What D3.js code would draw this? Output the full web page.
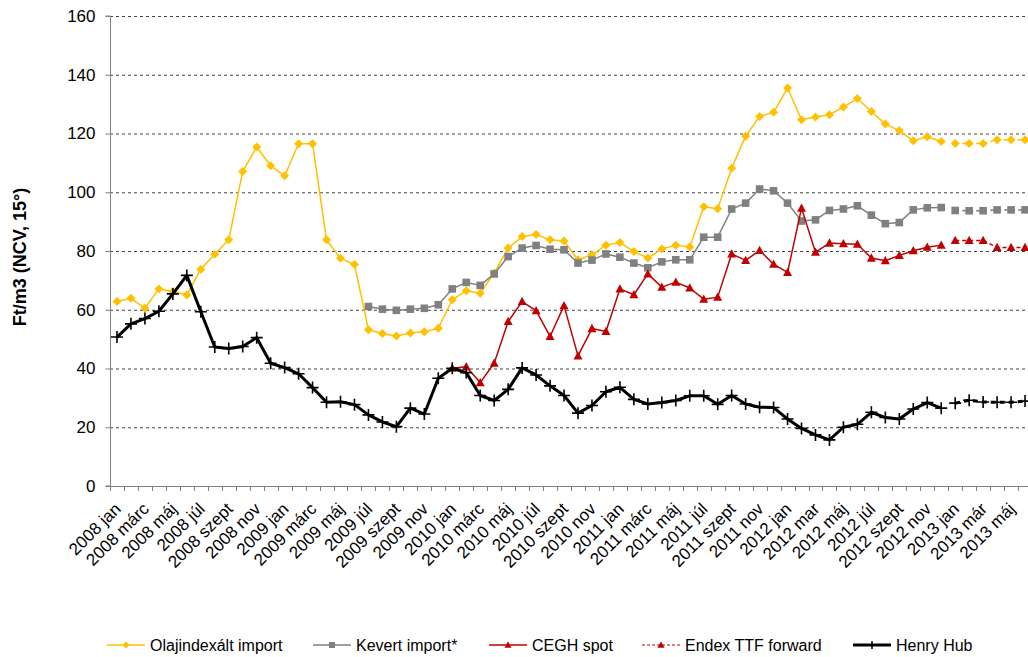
<!DOCTYPE html>
<html>
<head>
<meta charset="utf-8">
<script src="https://cdn.jsdelivr.net/npm/d3@7"></script>
<style>
  html, body { margin: 0; padding: 0; background: #fff; }
  svg { display: block; font-family: "Liberation Sans", Arial, sans-serif; }
</style>
</head>
<body>
<svg id="chart" width="1028" height="657"></svg>
<script>
// Month categories, 2008 jan – 2013 jún (every other one is labelled)
const months = [
  "2008 jan","2008 febr","2008 márc","2008 ápr","2008 máj","2008 jún","2008 júl","2008 aug","2008 szept","2008 okt","2008 nov","2008 dec",
  "2009 jan","2009 febr","2009 márc","2009 ápr","2009 máj","2009 jún","2009 júl","2009 aug","2009 szept","2009 okt","2009 nov","2009 dec",
  "2010 jan","2010 febr","2010 márc","2010 ápr","2010 máj","2010 jún","2010 júl","2010 aug","2010 szept","2010 okt","2010 nov","2010 dec",
  "2011 jan","2011 febr","2011 márc","2011 ápr","2011 máj","2011 jún","2011 júl","2011 aug","2011 szept","2011 okt","2011 nov","2011 dec",
  "2012 jan","2012 feb","2012 mar","2012 ápr","2012 máj","2012 jún","2012 júl","2012 aug","2012 szept","2012 okt","2012 nov","2012 dec",
  "2013 jan","2013 feb","2013 már","2013 ápr","2013 máj","2013 jún"
];

// Realised prices, Ft/m3 (2008 jan – 2012 dec); null = no data
const olajindexalt = [
  62.8,63.9,60.5,67.1,66.2,65.0,73.8,78.9,83.8,107.1,115.4,109.0,
  105.6,116.5,116.5,83.8,77.5,75.4,53.2,51.9,51.1,52.1,52.5,53.7,
  63.4,66.5,65.6,72.5,81.0,84.9,85.6,83.8,83.4,77.0,78.7,82.0,
  82.9,79.8,77.6,80.7,82.0,81.4,95.1,94.4,108.2,119.1,125.8,127.2,
  135.5,124.7,125.6,126.4,129.0,131.9,127.5,123.2,121.0,117.5,118.9,117.3
];
const kevert = [
  null,null,null,null,null,null,null,null,null,null,null,null,
  null,null,null,null,null,null,61.1,60.2,59.8,60.2,60.5,61.7,
  67.1,69.3,68.3,72.2,78.1,81.0,81.9,80.6,80.4,75.9,76.9,79.0,
  77.9,75.9,74.3,76.3,77.0,77.0,84.7,84.7,94.3,96.3,101.1,100.5,
  96.3,90.2,90.6,93.8,94.3,95.4,92.2,89.3,89.7,94.0,94.7,94.8
];
const cegh = [
  null,null,null,null,null,null,null,null,null,null,null,null,
  null,null,null,null,null,null,null,null,null,null,null,null,
  40.1,40.6,35.2,41.8,56.0,62.8,59.7,50.9,61.4,44.3,53.6,52.6,
  67.1,65.1,72.2,67.7,69.4,67.4,63.6,64.3,79.0,76.8,80.2,75.5,
  72.7,94.6,79.6,82.7,82.5,82.3,77.6,76.7,78.5,80.1,81.3,82.0
];
const henryHub = [
  50.7,55.2,57.0,59.5,65.4,71.7,59.3,47.3,46.8,47.5,50.5,41.8,
  40.3,38.2,33.5,28.5,28.7,27.7,24.2,21.8,20.2,26.5,24.5,36.7,
  40.1,38.6,30.8,29.1,32.9,40.2,37.8,34.1,30.8,24.8,27.4,32.1,
  33.6,29.5,27.9,28.4,29.1,30.7,30.7,27.8,30.8,27.9,26.8,26.7,
  22.8,19.6,17.4,15.7,20.0,21.0,25.1,23.3,22.8,26.2,28.4,26.5
];

// Forward prices, 2013 jan – 2013 jún
const fwdStart = 60;
const olajFwd   = [116.6,116.6,116.6,117.9,117.9,117.9];
const kevertFwd = [93.8,93.7,93.7,94.0,94.0,94.0];
const endexTTF  = [83.6,83.6,83.6,81.2,81.2,81.2];
const henryFwd  = [28.2,29.2,28.6,28.5,28.5,28.9];

const yTicks = [0,20,40,60,80,100,120,140,160];

const svg = d3.select("#chart");
const plot = { left: 110, top: 16, bottom: 486, step: 13.97 };

const x = d3.scaleBand()
  .domain(d3.range(months.length))
  .range([plot.left, plot.left + plot.step * months.length])
  .padding(0);
const cx = i => x(i) + x.bandwidth() / 2;
const y = d3.scaleLinear().domain([0, 160]).range([plot.bottom, plot.top]);

// Gridlines
svg.append("g").selectAll("line")
  .data(yTicks.filter(t => t > 0))
  .join("line")
  .attr("x1", plot.left).attr("x2", 1028)
  .attr("y1", d => y(d) + 0.5).attr("y2", d => y(d) + 0.5)
  .attr("stroke", "#444").attr("stroke-width", 1)
  .attr("stroke-dasharray", "3,3");

// Y axis
const yAxis = d3.axisLeft(y).tickValues(yTicks).tickSize(5).tickPadding(10);
const gy = svg.append("g").attr("transform", `translate(${plot.left + 0.5},0)`).call(yAxis);
gy.select(".domain").attr("stroke", "#808080").attr("d", `M-5,${y(0)}H0V${plot.top}H-5`);
gy.selectAll(".tick line").attr("stroke", "#808080");
gy.selectAll("text").attr("font-size", 17).attr("fill", "#000")
  .attr("font-family", "Liberation Sans, Arial, sans-serif");

// X axis: tick marks at category boundaries
const gx = svg.append("g");
gx.append("line")
  .attr("x1", plot.left).attr("x2", 1028)
  .attr("y1", plot.bottom + 0.5).attr("y2", plot.bottom + 0.5)
  .attr("stroke", "#808080");
gx.selectAll("line.tk")
  .data(d3.range(months.length + 1))
  .join("line").attr("class", "tk")
  .attr("x1", i => Math.round(plot.left + i * plot.step) + 0.5)
  .attr("x2", i => Math.round(plot.left + i * plot.step) + 0.5)
  .attr("y1", plot.bottom).attr("y2", plot.bottom + 5)
  .attr("stroke", "#808080");
gx.selectAll("text")
  .data(d3.range(0, months.length, 2))
  .join("text")
  .attr("transform", i => `translate(${cx(i) + 5},${plot.bottom + 24}) rotate(-45)`)
  .attr("text-anchor", "end")
  .attr("font-size", 17)
  .text(i => months[i]);

// Y axis title
svg.append("text")
  .attr("transform", `translate(26,257) rotate(-90)`)
  .attr("text-anchor", "middle")
  .attr("font-size", 18).attr("font-weight", "bold")
  .text("Ft/m3 (NCV, 15°)");

// Marker shapes
const diamond = s => `M0,${-s}L${s},0L0,${s}L${-s},0Z`;
const square = s => `M${-s},${-s}H${s}V${s}H${-s}Z`;
const triangle = s => `M0,${-s * 1.05}L${s},${s * 0.8}H${-s}Z`;
const cross = s => `M${-s},0H${s}M0,${-s}V${s}`;

const series = [
  { name: "Olajindexált import", real: olajindexalt, fwd: olajFwd, color: "#FFC000", width: 1.5, marker: "diamond" },
  { name: "Kevert import*", real: kevert, fwd: kevertFwd, color: "#808080", width: 1.5, marker: "square" },
  { name: "CEGH spot", real: cegh, fwd: endexTTF, color: "#C00000", width: 1.5, marker: "triangle" },
  { name: "Henry Hub", real: henryHub, fwd: henryFwd, color: "#000000", width: 3, marker: "cross" }
];

function drawMarker(g, kind, color) {
  if (kind === "diamond") g.append("path").attr("d", diamond(4.5)).attr("fill", color);
  else if (kind === "square") g.append("path").attr("d", square(3.8)).attr("fill", color);
  else if (kind === "triangle") g.append("path").attr("d", triangle(4.5)).attr("fill", color);
  else g.append("path").attr("d", cross(6)).attr("stroke", color).attr("stroke-width", 1.6).attr("fill", "none");
}

const line = d3.line().defined(d => d.v != null).x(d => cx(d.i)).y(d => y(d.v));

series.forEach(s => {
  const g = svg.append("g");
  const real = s.real.map((v, i) => ({ i, v }));
  const fwd = s.fwd.map((v, k) => ({ i: fwdStart + k, v }));
  g.append("path").datum(real).attr("d", line)
    .attr("fill", "none").attr("stroke", s.color).attr("stroke-width", s.width)
    .attr("stroke-linejoin", "round");
  g.append("path").datum(fwd).attr("d", line)
    .attr("fill", "none").attr("stroke", s.color).attr("stroke-width", s.width)
    .attr("stroke-dasharray", s.marker === "cross" ? "5,4" : "4,3");
  real.concat(fwd).filter(d => d.v != null).forEach(d => {
    const m = g.append("g").attr("transform", `translate(${cx(d.i)},${y(d.v)})`);
    drawMarker(m, s.marker, s.color);
  });
});

// Legend
const legend = [
  { name: "Olajindexált import", color: "#FFC000", width: 1.5, marker: "diamond", dash: null, x0: 107 },
  { name: "Kevert import*", color: "#808080", width: 1.5, marker: "square", dash: null, x0: 313 },
  { name: "CEGH spot", color: "#C00000", width: 1.5, marker: "triangle", dash: null, x0: 489 },
  { name: "Endex TTF forward", color: "#C00000", width: 1.2, marker: "triangle", dash: "3,2", x0: 642 },
  { name: "Henry Hub", color: "#000000", width: 3, marker: "cross", dash: null, x0: 853 }
];
const ly = 645;
legend.forEach(l => {
  const g = svg.append("g");
  g.append("line").attr("x1", l.x0).attr("x2", l.x0 + 38).attr("y1", ly).attr("y2", ly)
    .attr("stroke", l.color).attr("stroke-width", l.width)
    .attr("stroke-dasharray", l.dash);
  const m = g.append("g").attr("transform", `translate(${l.x0 + 19},${ly})`);
  if (l.marker === "diamond") m.append("path").attr("d", diamond(3.5)).attr("fill", l.color);
  else if (l.marker === "square") m.append("path").attr("d", square(3)).attr("fill", l.color);
  else if (l.marker === "triangle") m.append("path").attr("d", triangle(3.5)).attr("fill", l.color);
  else m.append("path").attr("d", cross(4)).attr("stroke", l.color).attr("stroke-width", 1.5);
  g.append("text").attr("x", l.x0 + 43).attr("y", ly + 6)
    .attr("font-size", 16).text(l.name);
});
</script>
</body>
</html>
